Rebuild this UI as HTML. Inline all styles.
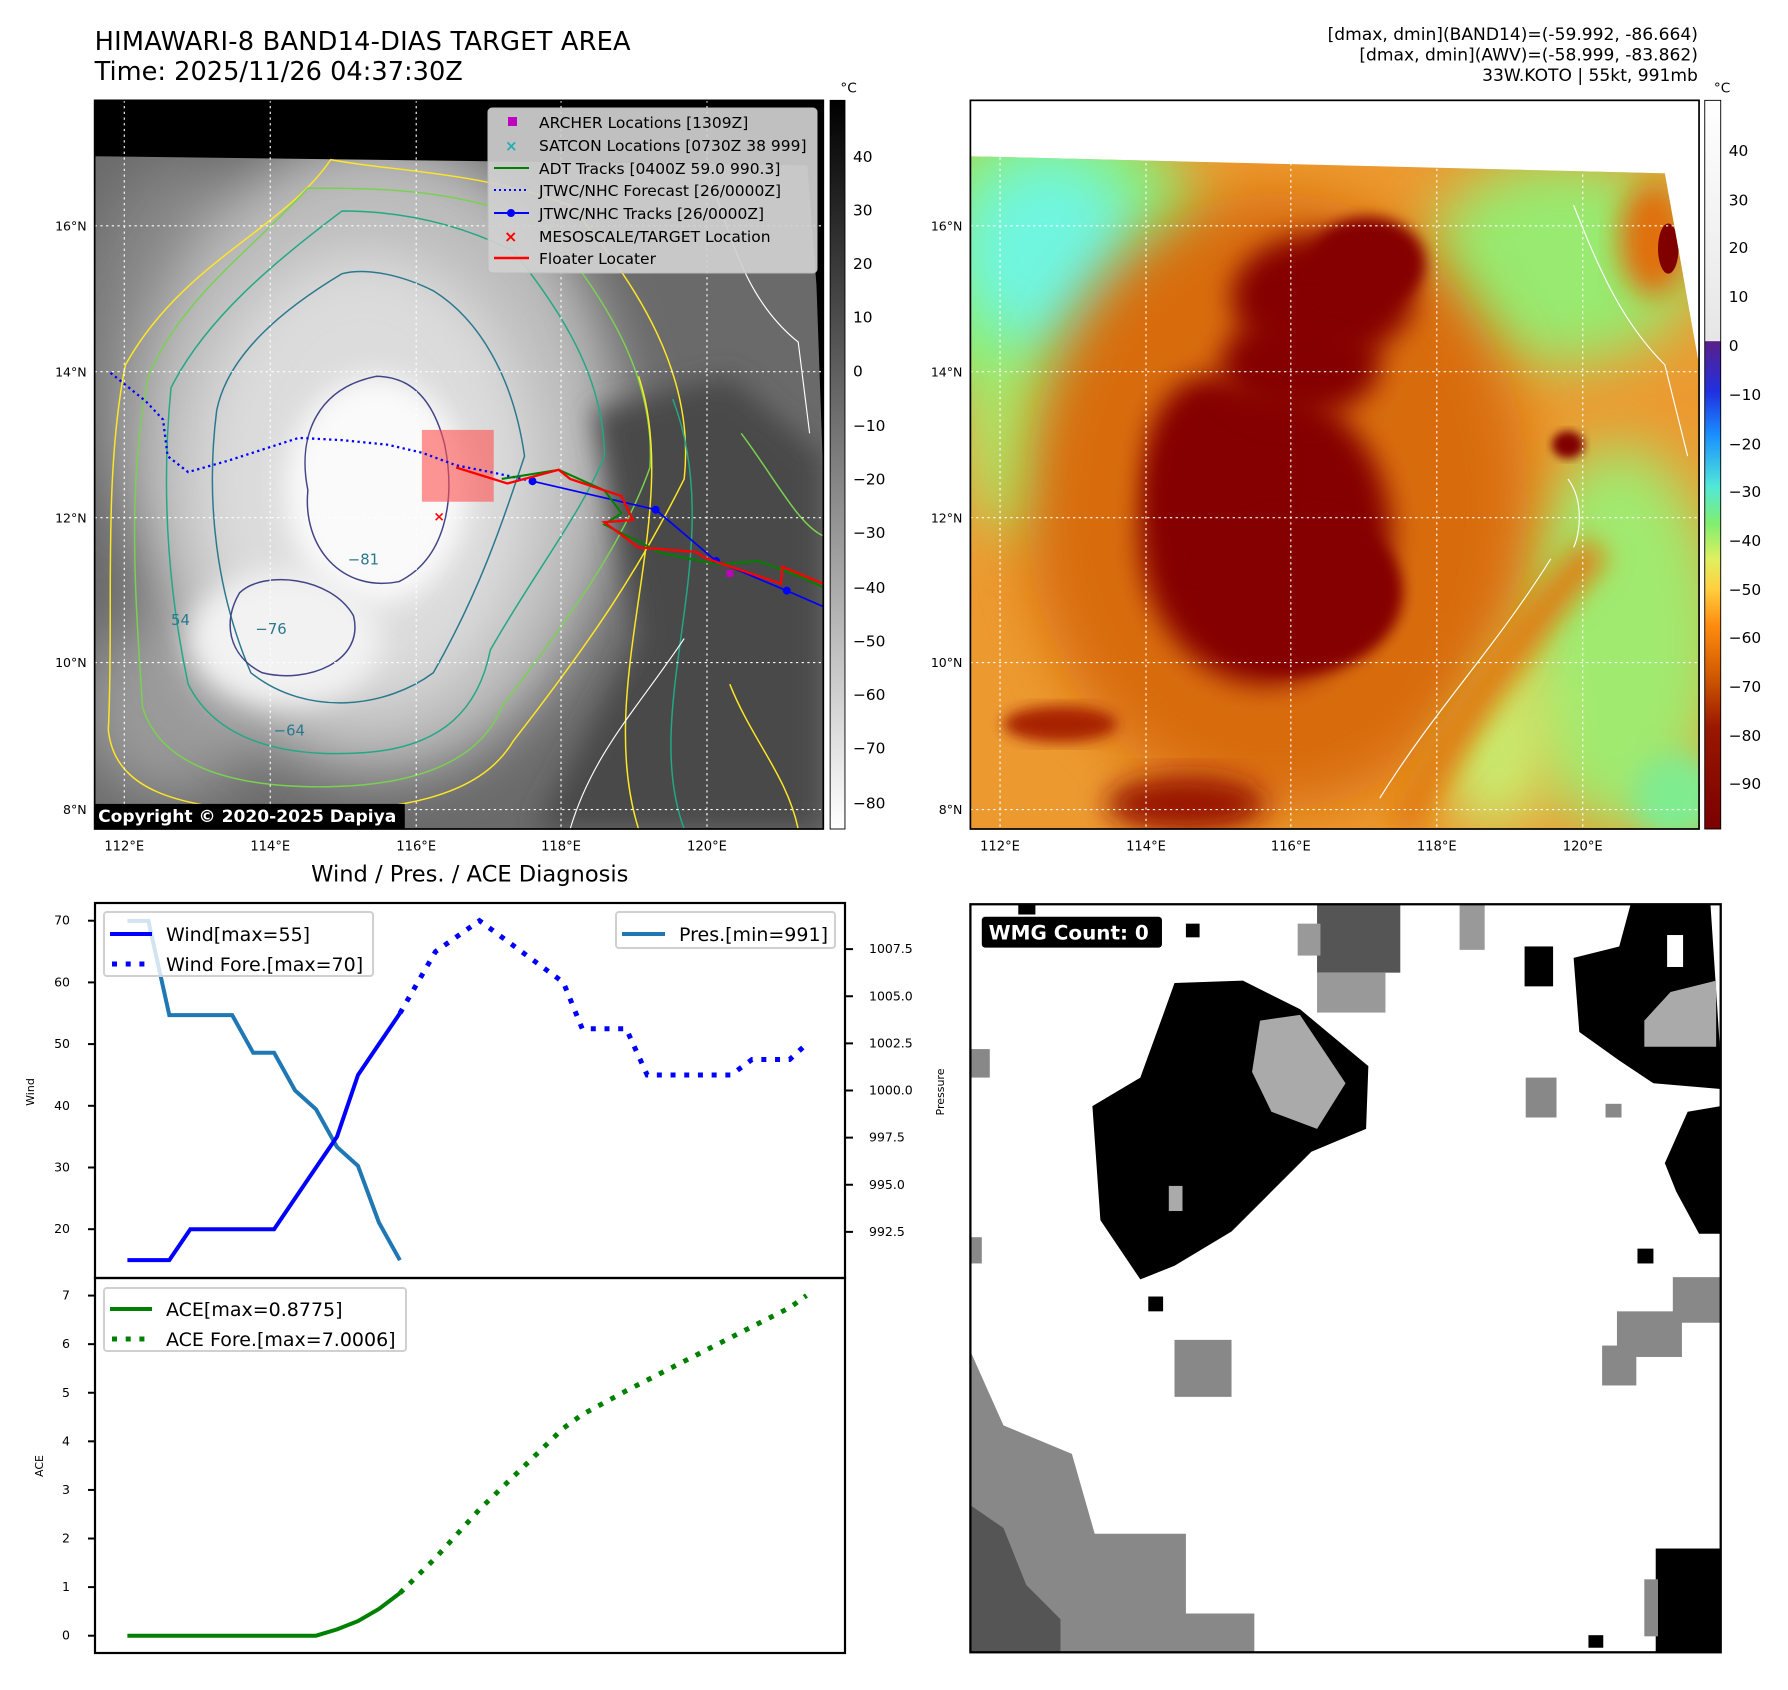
<!DOCTYPE html>
<html><head><meta charset="utf-8"><title>HIMAWARI-8 BAND14 DIAS</title>
<style>
html,body{margin:0;padding:0;background:#fff;}
svg{display:block;font-family:"DejaVu Sans","Liberation Sans",sans-serif;}
</style></head>
<body>
<svg id="fig" xmlns="http://www.w3.org/2000/svg" width="1788" height="1690" viewBox="0 0 1788 1690">
<defs>
  <filter id="b4" x="-20%" y="-20%" width="140%" height="140%"><feGaussianBlur stdDeviation="4"/></filter>
  <filter id="b6" x="-20%" y="-20%" width="140%" height="140%"><feGaussianBlur stdDeviation="6"/></filter>
  <filter id="b12" x="-30%" y="-30%" width="160%" height="160%"><feGaussianBlur stdDeviation="12"/></filter>
  <filter id="b25" x="-40%" y="-40%" width="180%" height="180%"><feGaussianBlur stdDeviation="25"/></filter>
  <clipPath id="clipL"><rect x="83" y="88" width="639" height="639"/></clipPath>
  <clipPath id="clipR"><rect x="851" y="88" width="639" height="639"/></clipPath>
  <clipPath id="clipB"><rect x="851" y="793" width="658" height="656"/></clipPath>
  <linearGradient id="cb1" x1="0" y1="0" x2="0" y2="1">
    <stop offset="0" stop-color="#000"/><stop offset="1" stop-color="#fff"/>
  </linearGradient>
  <linearGradient id="cb2" x1="0" y1="0" x2="0" y2="1">
    <stop offset="0" stop-color="#ffffff"/><stop offset="0.33" stop-color="#e6e6e6"/>
    <stop offset="0.331" stop-color="#5a1f8a"/><stop offset="0.40" stop-color="#2030e0"/>
    <stop offset="0.46" stop-color="#1a90ff"/><stop offset="0.53" stop-color="#50e8d8"/>
    <stop offset="0.58" stop-color="#80ee70"/><stop offset="0.63" stop-color="#e0f060"/>
    <stop offset="0.67" stop-color="#ffd040"/><stop offset="0.72" stop-color="#ff8c10"/>
    <stop offset="0.79" stop-color="#d05a00"/><stop offset="0.86" stop-color="#9a1800"/>
    <stop offset="1" stop-color="#7a0000"/>
  </linearGradient>
</defs>

<g transform="scale(1.1403)">
  <text x="83" y="44" font-size="22.5" textLength="470">HIMAWARI-8 BAND14-DIAS TARGET AREA</text>
  <text x="83" y="70" font-size="22.5">Time: 2025/11/26 04:37:30Z</text>
  <g font-size="15" text-anchor="end">
    <text x="1489" y="35">[dmax, dmin](BAND14)=(-59.992, -86.664)</text>
    <text x="1489" y="53">[dmax, dmin](AWV)=(-58.999, -83.862)</text>
    <text x="1489" y="71">33W.KOTO | 55kt, 991mb</text>
  </g>

  <!-- LEFT MAP -->
  <g clip-path="url(#clipL)">
    <rect x="83" y="88" width="639" height="639" fill="#6a6a6a"/>
    <ellipse cx="160" cy="300" rx="90" ry="160" fill="#858585" filter="url(#b25)"/>
    <ellipse cx="150" cy="620" rx="80" ry="80" fill="#999" filter="url(#b25)"/>
    <ellipse cx="330" cy="400" rx="215" ry="280" fill="#bcbcbc" filter="url(#b25)"/>
    <ellipse cx="320" cy="420" rx="150" ry="200" fill="#dcdcdc" filter="url(#b25)"/>
    <ellipse cx="330" cy="430" rx="80" ry="100" fill="#fafafa" filter="url(#b12)"/>
    <ellipse cx="250" cy="560" rx="85" ry="60" fill="#f2f2f2" filter="url(#b12)"/>
    <polygon points="520,360 640,330 722,400 722,727 470,727 560,560" fill="#4a4a4a" filter="url(#b12)"/>
    <polygon points="83,88 722,88 722,420 716,250 708,145 83,137" fill="#000"/>
    <g fill="none" stroke-width="1.3" stroke-linejoin="round">
      <path d="M290,140 C250,200 160,230 110,320 C90,420 100,540 95,640 C100,690 150,710 250,712 C350,712 420,700 450,650 C520,560 560,500 600,420 C610,330 560,250 500,180 C420,150 340,150 290,140Z" stroke="#fde725"/>
      <path d="M270,165 C220,220 160,260 130,330 C110,430 120,540 125,620 C140,670 200,690 280,690 C360,690 420,670 440,620 C500,540 545,480 570,410 C575,330 530,260 480,200 C410,165 330,165 270,165Z" stroke="#7ad151"/>
      <path d="M300,185 C240,230 180,280 150,340 C140,440 150,530 165,600 C190,650 250,665 320,660 C390,655 420,620 430,570 C470,500 510,450 530,400 C530,330 490,270 450,220 C400,195 350,185 300,185Z" stroke="#22a884"/>
      <path d="M300,240 C250,270 200,310 190,360 C180,440 190,520 220,590 C270,630 340,620 380,590 C420,520 440,460 460,400 C450,330 420,280 380,255 C350,240 320,235 300,240Z" stroke="#2a788e"/>
      <path d="M330,330 C280,340 260,380 270,430 C265,480 300,520 350,510 C390,490 400,440 390,390 C380,350 360,330 330,330Z" stroke="#414487"/>
      <path d="M210,520 C230,500 290,505 310,540 C320,580 270,600 230,590 C200,575 195,545 210,520Z" stroke="#414487"/>
      <path d="M560,330 C600,450 520,600 560,727" stroke="#fde725"/>
      <path d="M590,350 C640,480 560,620 600,727" stroke="#22a884"/>
      <path d="M640,600 C660,650 690,680 700,727" stroke="#fde725"/>
      <path d="M650,380 C680,420 700,460 722,470" stroke="#7ad151"/>
    </g>
    <g stroke="#fff" stroke-width="1" fill="none">
      <path d="M620,150 C640,200 650,260 700,300 L710,380"/>
      <path d="M500,727 C520,660 560,620 600,560"/>
    </g>
    <g stroke="#fff" stroke-width="1" stroke-dasharray="2,3" fill="none">
      <line x1="109" y1="88" x2="109" y2="727"/><line x1="237" y1="88" x2="237" y2="727"/>
      <line x1="365" y1="88" x2="365" y2="727"/><line x1="492" y1="88" x2="492" y2="727"/>
      <line x1="620" y1="88" x2="620" y2="727"/>
      <line x1="83" y1="198" x2="722" y2="198"/><line x1="83" y1="326" x2="722" y2="326"/>
      <line x1="83" y1="454" x2="722" y2="454"/><line x1="83" y1="581" x2="722" y2="581"/>
      <line x1="83" y1="710" x2="722" y2="710"/>
    </g>
    <rect x="370" y="377" width="63" height="63" fill="#ff5050" opacity="0.6"/>
    <polyline points="97,327 128,352 143,368 147,400 165,414 200,404 262,384 300,386 340,390 370,397 400,408 435,415 467,422" fill="none" stroke="#0000ff" stroke-width="2" stroke-dasharray="2,3"/>
    <polyline points="467,422 575,447 628,492 690,518 722,532" fill="none" stroke="#0000ff" stroke-width="1.5"/>
    <g fill="#0000ff"><circle cx="467" cy="422" r="3.5"/><circle cx="575" cy="447" r="3.5"/><circle cx="628" cy="492" r="3.5"/><circle cx="690" cy="518" r="3.5"/></g>
    <polyline points="440,420 490,412 530,430 545,450 530,460 580,485 630,495 665,492 700,505 722,515" fill="none" stroke="#008000" stroke-width="1.8"/>
    <polyline points="400,410 445,424 490,412 500,420 545,435 555,456 530,458 560,480 610,484 620,490 685,512 686,497 722,512" fill="none" stroke="#ff0000" stroke-width="2"/>
    <text x="380" y="457" fill="#ff0000" font-size="12" font-weight="bold">×</text>
    <rect x="637" y="500" width="6" height="6" fill="#c000c0"/>
    <g font-size="13" fill="#2a788e"><text x="224" y="556">−76</text><text x="240" y="645">−64</text><text x="305" y="495">−81</text><text x="150" y="548">54</text></g>
  </g>
  <rect x="83" y="88" width="639" height="639" fill="none" stroke="#000" stroke-width="1.5"/>
  <rect x="83" y="705" width="272" height="22" fill="#000"/>
  <text x="86" y="721" fill="#fff" font-size="15" font-weight="bold">Copyright © 2020-2025 Dapiya</text>
  <g font-size="11" text-anchor="end">
    <text x="76" y="202">16°N</text><text x="76" y="330">14°N</text><text x="76" y="458">12°N</text><text x="76" y="585">10°N</text><text x="76" y="714">8°N</text>
  </g>
  <g font-size="11.5" text-anchor="middle">
    <text x="109" y="746">112°E</text><text x="237" y="746">114°E</text><text x="365" y="746">116°E</text><text x="492" y="746">118°E</text><text x="620" y="746">120°E</text>
  </g>
  <rect x="728" y="88" width="13" height="639" fill="url(#cb1)" stroke="#000" stroke-width="0.8"/>
  <text x="737" y="81" font-size="12">°C</text>
  <g font-size="13.5">
    <text x="748" y="142">40</text><text x="748" y="189">30</text><text x="748" y="236">20</text><text x="748" y="283">10</text>
    <text x="748" y="330">0</text><text x="748" y="378">−10</text><text x="748" y="425">−20</text><text x="748" y="472">−30</text>
    <text x="748" y="520">−40</text><text x="748" y="567">−50</text><text x="748" y="614">−60</text><text x="748" y="661">−70</text><text x="748" y="709">−80</text>
  </g>

  <!-- RIGHT MAP -->
  <g clip-path="url(#clipR)">
    <rect x="851" y="88" width="639" height="639" fill="#fff"/>
    <clipPath id="dataR"><polygon points="851,137 1460,152 1490,320 1490,727 851,727"/></clipPath>
    <g clip-path="url(#dataR)">
      <rect x="851" y="88" width="639" height="639" fill="#ec9a30"/>
      <ellipse cx="920" cy="230" rx="140" ry="140" fill="#90ec70" filter="url(#b25)"/>
      <ellipse cx="900" cy="390" rx="50" ry="80" fill="#a8ee70" filter="url(#b25)"/>
      <ellipse cx="920" cy="220" rx="80" ry="85" fill="#70f6e0" filter="url(#b25)"/>
      <ellipse cx="1370" cy="230" rx="120" ry="90" fill="#98ea70" filter="url(#b25)"/>
      <ellipse cx="1420" cy="560" rx="90" ry="170" fill="#a0ea70" filter="url(#b25)"/>
      <ellipse cx="1310" cy="640" rx="50" ry="90" fill="#c8ee70" filter="url(#b25)"/>
      <ellipse cx="1470" cy="700" rx="40" ry="40" fill="#80ec90" filter="url(#b12)"/>
      <ellipse cx="1120" cy="440" rx="220" ry="270" fill="#d86c10" filter="url(#b25)"/>
      <ellipse cx="1110" cy="470" rx="110" ry="130" fill="#850000" filter="url(#b12)"/>
      <ellipse cx="1060" cy="410" rx="55" ry="80" fill="#850000" filter="url(#b12)"/>
      <ellipse cx="1160" cy="260" rx="80" ry="55" fill="#850000" filter="url(#b12)"/>
      <ellipse cx="1140" cy="320" rx="70" ry="45" fill="#850000" filter="url(#b12)"/>
      <ellipse cx="1200" cy="230" rx="50" ry="40" fill="#850000" filter="url(#b6)"/>
      <ellipse cx="1140" cy="520" rx="90" ry="70" fill="#850000" filter="url(#b6)"/>
      <ellipse cx="1040" cy="705" rx="70" ry="25" fill="#9a1400" filter="url(#b12)"/>
      <ellipse cx="930" cy="635" rx="50" ry="16" fill="#a82000" filter="url(#b6)"/>
      <ellipse cx="1450" cy="210" rx="30" ry="50" fill="#e07010" filter="url(#b12)"/>
      <ellipse cx="1463" cy="218" rx="9" ry="22" fill="#800000"/>
      <ellipse cx="1375" cy="390" rx="14" ry="12" fill="#800000" filter="url(#b4)"/>
      <path d="M1400,480 C1330,560 1270,640 1230,727" stroke="#e07a10" stroke-width="28" fill="none" filter="url(#b12)"/>
    </g>
    <g stroke="#fff" stroke-width="1" fill="none">
      <path d="M1380,180 C1400,230 1420,280 1460,320 L1480,400"/>
      <path d="M1210,700 C1260,620 1310,570 1360,490"/>
      <path d="M1375,420 C1390,440 1385,470 1380,480"/>
    </g>
    <g stroke="#fff" stroke-width="1" stroke-dasharray="2,3" fill="none">
      <line x1="877" y1="88" x2="877" y2="727"/><line x1="1005" y1="88" x2="1005" y2="727"/>
      <line x1="1132" y1="88" x2="1132" y2="727"/><line x1="1260" y1="88" x2="1260" y2="727"/>
      <line x1="1388" y1="88" x2="1388" y2="727"/>
      <line x1="851" y1="198" x2="1490" y2="198"/><line x1="851" y1="326" x2="1490" y2="326"/>
      <line x1="851" y1="454" x2="1490" y2="454"/><line x1="851" y1="581" x2="1490" y2="581"/>
      <line x1="851" y1="710" x2="1490" y2="710"/>
    </g>
  </g>
  <rect x="851" y="88" width="639" height="639" fill="none" stroke="#000" stroke-width="1.5"/>
  <g font-size="11" text-anchor="end">
    <text x="844" y="202">16°N</text><text x="844" y="330">14°N</text><text x="844" y="458">12°N</text><text x="844" y="585">10°N</text><text x="844" y="714">8°N</text>
  </g>
  <g font-size="11.5" text-anchor="middle">
    <text x="877" y="746">112°E</text><text x="1005" y="746">114°E</text><text x="1132" y="746">116°E</text><text x="1260" y="746">118°E</text><text x="1388" y="746">120°E</text>
  </g>
  <rect x="1495" y="88" width="14" height="639" fill="url(#cb2)" stroke="#000" stroke-width="0.8"/>
  <text x="1503" y="81" font-size="12">°C</text>
  <g font-size="13.5">
    <text x="1516" y="137">40</text><text x="1516" y="180">30</text><text x="1516" y="222">20</text><text x="1516" y="265">10</text>
    <text x="1516" y="308">0</text><text x="1516" y="351">−10</text><text x="1516" y="394">−20</text><text x="1516" y="436">−30</text>
    <text x="1516" y="479">−40</text><text x="1516" y="522">−50</text><text x="1516" y="564">−60</text><text x="1516" y="607">−70</text>
    <text x="1516" y="650">−80</text><text x="1516" y="692">−90</text>
  </g>

  <text x="412" y="773" font-size="19.8" text-anchor="middle">Wind / Pres. / ACE Diagnosis</text>

  <g clip-path="url(#clipB)">
    <rect x="851" y="793" width="658" height="656" fill="#fff"/>
    <g fill="#555"><rect x="1155" y="793" width="73" height="60"/></g>
    <g fill="#999"><rect x="1138" y="810" width="20" height="28"/><rect x="1155" y="853" width="60" height="35"/><rect x="1280" y="793" width="22" height="40"/></g>
    <polygon fill="#000" points="1030,862 1090,860 1140,885 1200,935 1198,990 1150,1010 1110,1050 1080,1080 1030,1110 1000,1122 965,1070 958,970 1000,945 1020,890"/>
    <polygon fill="#aaa" points="1105,895 1140,890 1180,950 1155,990 1115,975 1098,940"/>
    <rect x="1025" y="1040" width="12" height="22" fill="#aaa"/>
    <polygon fill="#000" points="1380,840 1420,830 1430,793 1500,793 1509,930 1509,955 1450,950 1420,930 1385,905"/>
    <rect x="1462" y="820" width="14" height="28" fill="#fff"/>
    <polygon fill="#aaa" points="1465,870 1505,860 1505,918 1442,918 1442,895"/>
    <polygon fill="#000" points="1480,975 1509,970 1509,1082 1490,1082 1470,1045 1460,1020"/>
    <polygon fill="#888" points="851,1185 880,1250 940,1275 960,1345 1040,1345 1040,1415 1100,1415 1100,1449 851,1449"/>
    <polygon fill="#555" points="851,1320 880,1340 900,1390 930,1420 930,1449 851,1449"/>
    <rect x="1452" y="1358" width="57" height="91" fill="#000"/>
    <rect x="1442" y="1385" width="12" height="50" fill="#888"/>
    <g fill="#888"><rect x="1418" y="1150" width="57" height="40"/><rect x="1405" y="1180" width="30" height="35"/><rect x="1467" y="1120" width="42" height="40"/></g>
    <g fill="#888"><rect x="1030" y="1175" width="50" height="50"/><rect x="1338" y="945" width="27" height="35"/><rect x="851" y="920" width="17" height="25"/><rect x="851" y="1085" width="10" height="23"/><rect x="1408" y="968" width="14" height="12"/></g>
    <g fill="#000"><rect x="1337" y="830" width="25" height="35"/><rect x="1436" y="1095" width="14" height="13"/><rect x="1393" y="1434" width="13" height="11"/><rect x="1007" y="1137" width="13" height="13"/><rect x="1040" y="810" width="12" height="12"/><rect x="893" y="793" width="15" height="9"/></g>
  </g>
  <rect x="851" y="793" width="658" height="656" fill="none" stroke="#000" stroke-width="2"/>
  <rect x="861" y="804" width="158" height="27" rx="3" fill="#000"/>
  <text x="867" y="824" fill="#fff" font-size="17.5" font-weight="bold">WMG Count: 0</text>
</g>

<g>
  <rect x="488" y="108" width="329" height="165" rx="4" fill="#d0d0d0" fill-opacity="0.92" stroke="#bbb"/>
  <rect x="508" y="117" width="9" height="9" fill="#c000c0"/>
  <text x="505" y="151" fill="#20b0b0" font-size="15" font-weight="bold">×</text>
  <line x1="494" y1="168" x2="529" y2="168" stroke="#008000" stroke-width="2"/>
  <line x1="494" y1="190" x2="529" y2="190" stroke="#0000ff" stroke-width="2" stroke-dasharray="2,3"/>
  <line x1="494" y1="213" x2="529" y2="213" stroke="#0000ff" stroke-width="2"/><circle cx="511" cy="213" r="4" fill="#0000ff"/>
  <text x="504" y="242" fill="#ff0000" font-size="16" font-weight="bold">×</text>
  <line x1="494" y1="258" x2="529" y2="258" stroke="#ff0000" stroke-width="2.5"/>
  <g font-size="15.5">
    <text x="539" y="128">ARCHER Locations [1309Z]</text>
    <text x="539" y="151">SATCON Locations [0730Z 38 999]</text>
    <text x="539" y="174">ADT Tracks [0400Z 59.0 990.3]</text>
    <text x="539" y="196">JTWC/NHC Forecast [26/0000Z]</text>
    <text x="539" y="219">JTWC/NHC Tracks [26/0000Z]</text>
    <text x="539" y="242">MESOSCALE/TARGET Location</text>
    <text x="539" y="264">Floater Locater</text>
  </g>
</g>

<g id="charts">
  <rect x="95" y="903" width="750" height="375" fill="none" stroke="#000" stroke-width="2.2"/>
  <rect x="95" y="1278" width="750" height="375" fill="none" stroke="#000" stroke-width="2.2"/>
  <text transform="translate(34,1092) rotate(-90)" font-size="11" text-anchor="middle">Wind</text>
  <text transform="translate(944,1092) rotate(-90)" font-size="11" text-anchor="middle">Pressure</text>
  <text transform="translate(43,1466) rotate(-90)" font-size="11" text-anchor="middle">ACE</text>
  <g id="axes"></g>
  <g id="series"></g>
  <g>
    <rect x="104" y="912" width="269" height="64" rx="3" fill="#fff" fill-opacity="0.8" stroke="#d0d0d0" stroke-width="2"/>
    <line x1="110" y1="934" x2="152" y2="934" stroke="#0000ff" stroke-width="4"/>
    <line x1="112" y1="964" x2="152" y2="964" stroke="#0000ff" stroke-width="5" stroke-dasharray="5,8.7"/>
    <text x="166" y="941" font-size="19">Wind[max=55]</text>
    <text x="166" y="971" font-size="19">Wind Fore.[max=70]</text>
  </g>
  <g>
    <rect x="616" y="912" width="219" height="36" rx="3" fill="#fff" fill-opacity="0.8" stroke="#d0d0d0" stroke-width="2"/>
    <line x1="622" y1="934" x2="665" y2="934" stroke="#1f77b4" stroke-width="4"/>
    <text x="679" y="941" font-size="19">Pres.[min=991]</text>
  </g>
  <g>
    <rect x="104" y="1288" width="302" height="63" rx="3" fill="#fff" fill-opacity="0.8" stroke="#d0d0d0" stroke-width="2"/>
    <line x1="110" y1="1309" x2="152" y2="1309" stroke="#008000" stroke-width="4"/>
    <line x1="112" y1="1339" x2="152" y2="1339" stroke="#008000" stroke-width="5" stroke-dasharray="5,8.7"/>
    <text x="166" y="1316" font-size="19">ACE[max=0.8775]</text>
    <text x="166" y="1346" font-size="19">ACE Fore.[max=7.0006]</text>
  </g>
</g>
</svg>
<script>
const obsT = [0,1,2,3,4,5,6,7,8,9,10,11,12,13];
const windObs = [15,15,15,20,20,20,20,20,25,30,35,45,50,55];
const presObs = [1009,1009,1004,1004,1004,1004,1002,1002,1000,999,997,996,993,991];
const aceObs = [0,0,0,0,0,0,0,0,0,0,0.13,0.3,0.55,0.8775];
const foreT = [13,14.7,16.8,20.8,21.7,23.8,24.8,28.8,29.8,31.6,32.4];
const windFore = [55,65,70,60,52.5,52.5,45,45,47.5,47.5,50];
const aceFore = [0.8775,1.6,2.6,4.27,4.55,5.04,5.26,6.14,6.36,6.75,7.0006];
const windTicks = [20,30,40,50,60,70];
const presTicks = [992.5,995,997.5,1000,1002.5,1005,1007.5];
const presTickLabels = ["992.5","995.0","997.5","1000.0","1002.5","1005.0","1007.5"];
const aceTicks = [0,1,2,3,4,5,6,7];

const NS = "http://www.w3.org/2000/svg";
function xS(t){ return 127.4 + t*20.96; }
function wY(v){ return 920.7 + (70 - v)*6.17; }
function pY(p){ return 1090.5 - (p - 1000)*18.85; }
function aY(a){ return 1635.7 - a*48.59; }
function mk(tag, attrs, parent){ const e=document.createElementNS(NS,tag); for(const k in attrs) e.setAttribute(k, attrs[k]); parent.appendChild(e); return e; }
function pts(ts, vs, yf){ return ts.map((t,i)=>xS(t).toFixed(1)+","+yf(vs[i]).toFixed(1)).join(" "); }

const axes = document.getElementById("axes");
windTicks.forEach(v=>{
  const l = mk("line",{x1:88,x2:95,y1:wY(v),y2:wY(v),stroke:"#000","stroke-width":2},axes);
  
  
  const t = mk("text",{x:70,y:wY(v)+4,"font-size":12.5,"text-anchor":"end"},axes);
  
  
  t.textContent = v;
});
presTicks.forEach((p,i)=>{
  const l = mk("line",{x1:845,x2:853,y1:pY(p),y2:pY(p),stroke:"#000","stroke-width":2},axes);
  
  
  const t = mk("text",{x:869,y:pY(p)+4,"font-size":12.5},axes);
  
  
  t.textContent = presTickLabels[i];
});
aceTicks.forEach(a=>{
  const l = mk("line",{x1:88,x2:95,y1:aY(a),y2:aY(a),stroke:"#000","stroke-width":2},axes);
  
  
  const t = mk("text",{x:70,y:aY(a)+4,"font-size":12.5,"text-anchor":"end"},axes);
  
  
  t.textContent = a;
});

const series = document.getElementById("series");
const pl = mk("polyline",{points:pts(obsT,presObs,pY),fill:"none",stroke:"#1f77b4","stroke-width":4},series);


const wl = mk("polyline",{points:pts(obsT,windObs,wY),fill:"none",stroke:"#0000ff","stroke-width":4},series);


const wf = mk("polyline",{points:pts(foreT,windFore,wY),fill:"none",stroke:"#0000ff","stroke-width":5,"stroke-dasharray":"5,8.7"},series);


const al = mk("polyline",{points:pts(obsT,aceObs,aY),fill:"none",stroke:"#008000","stroke-width":4},series);


const af = mk("polyline",{points:pts(foreT,aceFore,aY),fill:"none",stroke:"#008000","stroke-width":5,"stroke-dasharray":"5,8.7"},series);


</script>
</body></html>
